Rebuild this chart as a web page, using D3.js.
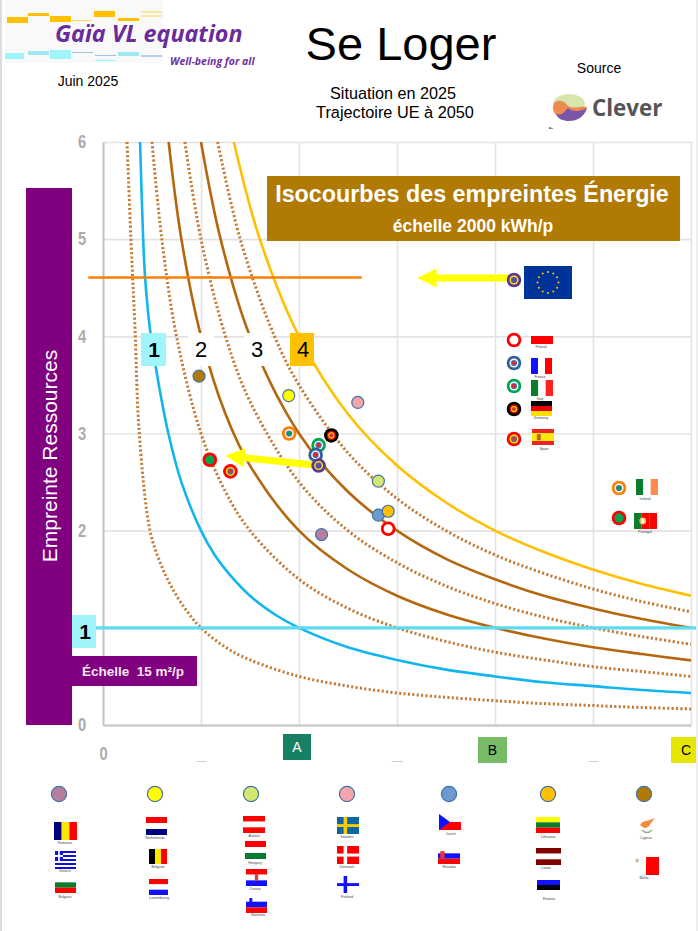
<!DOCTYPE html>
<html lang="fr">
<head>
<meta charset="utf-8">
<title>Se Loger</title>
<script src="https://cdn.jsdelivr.net/npm/d3@7.9.0/dist/d3.min.js"></script>
<style>
  html, body { margin: 0; padding: 0; background: #fff; }
  svg { display: block; }
  text { font-family: "Liberation Sans", Arial, sans-serif; }
  .flagLabel { font-size: 3.6px; fill: #444; text-anchor: middle; }
</style>
</head>
<body>
<svg id="chart" width="698" height="931"></svg>
<script>
// values
const yTicks = [0, 1, 2, 3, 4, 5, 6];
const yTickLabels = ['0', '', '2', '3', '4', '5', '6'];   // the 1 sits in the cyan box
const xTicks = [0, 1, 2, 3, 4, 5, 6];
const xTickLabels = ['0', '_', '', '_', '', '_', ''];     // A, B, C boxes take the others

// isocurves, [x, y] pairs
const dotted1 = [[0.245,6],[0.285,5],[0.327,4.07],[0.37,3],[0.48,2],[0.58,1.68],[0.7,1.42],[0.85,1.18],[1,1],[1.25,0.8],[1.5,0.67],[2,0.5],[2.5,0.4],[3,0.33],[3.5,0.285],[4,0.25],[4.5,0.22],[5,0.2],[5.5,0.18],[6,0.165]];
const blue2 = [[0.378,6],[0.41,5],[0.43,4.6],[0.48,4.07],[0.57,3.5],[0.667,3],[0.8,2.5],[1,2],[1.14,1.75],[1.3,1.54],[1.5,1.33],[1.75,1.14],[2,1],[2.5,0.8],[3,0.67],[3.5,0.57],[4,0.5],[4.5,0.44],[5,0.4],[5.5,0.36],[6,0.33]];
const dotted3 = [[0.5,6],[0.6,5],[0.75,4],[1,3],[1.25,2.4],[1.5,2],[2,1.5],[2.5,1.2],[3,1],[3.5,0.86],[4,0.75],[4.5,0.67],[5,0.6],[5.5,0.55],[6,0.5]];
const brown4 = [[0.67,6],[0.8,5],[1,4],[1.25,3.2],[1.5,2.67],[2,2],[2.5,1.6],[3,1.33],[3.5,1.14],[4,1],[4.5,0.89],[5,0.8],[5.5,0.73],[6,0.665]];
const dotted5 = [[0.835,6],[1,5],[1.25,4],[1.5,3.33],[2,2.5],[2.5,2],[3,1.67],[3.5,1.43],[4,1.25],[4.5,1.11],[5,1],[5.5,0.91],[6,0.83]];
const brown6 = [[1,6],[1.2,5],[1.5,4],[2,3],[2.5,2.4],[3,2],[3.5,1.71],[4,1.5],[4.5,1.33],[5,1.2],[5.5,1.09],[6,1]];
const dotted7 = [[1.17,6],[1.4,5],[1.75,4],[2,3.5],[2.5,2.8],[3,2.33],[3.5,2],[4,1.75],[4.5,1.56],[5,1.4],[5.5,1.27],[6,1.165]];
const gold8 = [[1.335,6],[1.6,5],[2,4],[2.5,3.2],[3,2.67],[3.5,2.29],[4,2],[4.5,1.78],[5,1.6],[5.5,1.45],[6,1.33]];

const ueLevel = 4.605;     // orange line
const ueLevelX = [-0.15, 2.64];
const unitLevel = 1;       // cyan line

// countries on the chart
const countries = ['Cyprus','Netherlands','Sweden','Ireland','Germany','Italy','France','EU','Portugal','Spain','Austria','Czech','Lithuania','Poland','Romania'];
const countryX = [0.98, 1.895, 2.6, 1.9, 2.33, 2.2, 2.17, 2.2, 1.09, 1.3, 2.81, 2.81, 2.91, 2.91, 2.23];
const countryY = [3.59, 3.39, 3.32, 3.0, 2.98, 2.88, 2.78, 2.67, 2.73, 2.61, 2.51, 2.16, 2.2, 2.02, 1.96];

// trajectories, from / to
const arrowFrom = [[4.2, 4.6], [2.2, 2.67]];
const arrowTo = [[3.21, 4.6], [1.25, 2.77]];

const flagStripes = {
  Poland: ['#fff', '#f00'], France: ['#11f', '#fff', '#f00'], Italy: ['#0a7d2c', '#fff', '#f22'],
  Germany: ['#000', '#e00', '#ffe000'], Spain: ['#e22', '#fbe90e', '#fbe90e', '#e22'], Ireland: ['#0a7d2c', '#fff', '#ff8a4c'],
  Portugal: ['#0a7d2c', '#f00', '#f00'], Romania: ['#000080', '#ffe600', '#f00'], Greece: ['#11d', '#fff', '#11d', '#fff', '#11d', '#fff', '#11d', '#fff', '#11d'],
  Bulgaria: ['#fff', '#0a7d2c', '#f00'], Netherlands: ['#f00', '#fff', '#000080'], Belgium: ['#000', '#ffe600', '#f00'],
  Luxembourg: ['#f00', '#fff', '#11f'], Austria: ['#f00', '#fff', '#f00'], Hungary: ['#f00', '#fff', '#0a7d2c'],
  Croatia: ['#f00', '#fff', '#11f'], Slovenia: ['#fff', '#11f', '#f00'], Sweden: ['#0f66a5'],
  Denmark: ['#f00'], Finland: ['#fff'], Czech: ['#fff', '#f00'], Slovakia: ['#fff', '#11f', '#f00'],
  Lithuania: ['#ff0', '#0a7d2c', '#f00'], Latvia: ['#800000', '#fff', '#800000'], Estonia: ['#11f', '#000', '#fff'],
  Cyprus: ['#fff'], Malta: ['#fff', '#f00']
};
const verticalFlags = ['France', 'Italy', 'Ireland', 'Portugal', 'Romania', 'Belgium', 'Malta'];

// layout of the legends: x, y, w, h of the flag, then label x, y
const flagBoxes = {
  Poland: [531,328,22,16,541,348], France: [531,358,21,16,540,378], Italy: [531,380,22,16,540,400],
  Germany: [531,401,21,15,541,419], Spain: [532,429,22,16,544,450], Ireland: [636,479,22,16,645,500],
  Portugal: [634,513,23,16,645,533],
  Romania: [54,822,23,18,65,844], Greece: [55,851,21,18,65,872], Bulgaria: [55,877,21,16,65,898],
  Netherlands: [146,817,21,18,155,839], Belgium: [149,849,18,15,158,868], Luxembourg: [149,879,19,16,159,899],
  Austria: [243,816,22,17,254,837], Hungary: [245,841,21,18,255,864], Croatia: [246,869,21,17,255,890], Slovenia: [246,896,21,17,258,916],
  Sweden: [337,817,22,17,347,838], Denmark: [337,846,22,18,347,868], Finland: [337,876,22,17,347,898],
  Czech: [439,814,22,16,451,835], Slovakia: [438,848,22,16,449,868],
  Lithuania: [536,817,24,16,548,838], Latvia: [536,848,25,17,546,869], Estonia: [537,880,23,15,549,900],
  Cyprus: [634,817,26,18,646,839], Malta: [633,857,26,18,644,879]
};
const ringLegend = [['Poland',514,340],['France',514,363],['Italy',514,386],['Germany',514,409],['Spain',514,439],['EU',514,280],['Ireland',619,488],['Portugal',619,518]];
const dotLegend = [['Romania',59,794],['Netherlands',155,794],['Austria',251,794],['Sweden',347,794],['Czech',449,794],['Lithuania',548,794],['Cyprus',644,794]];

// colours for each marker: plain fill, or list of nested rings
const dotFill = { Romania:'#b87e9f', Netherlands:'#ffff00', Austria:'#d4e76f', Sweden:'#f4a6aa', Czech:'#6d9bce', Lithuania:'#ffc000', Cyprus:'#b17a05' };
const rings = {
  Poland: ['#f00','#fff'], France: ['#2e6399','#fff','#4472c4','#e22'], Italy: ['#00a651','#fff','#4472c4','#e22'],
  Germany: ['#000','#e00','#ffe000','#d33'], Spain: ['#f00','#ffe600','#4472a8','#d33'], EU: ['#5a3a96','#ffe600','#5a4ea8'],
  Ireland: ['#ff7f00','#fff','#4472a8','#00a651'], Portugal: ['#f00','#00a651']
};
const ringRadius = [7.3, 4.5, 3.1, 2.1];

const svg = d3.select('#chart');
const x = d3.scaleLinear().domain([0, 6]).range([103, 691]);
const y = d3.scaleLinear().domain([0, 6]).range([725, 142]);

// page edges
svg.append('rect').attr('x', 0).attr('y', 0).attr('width', 2).attr('height', 931).attr('fill', '#dcdcdc');
svg.append('rect').attr('x', 696).attr('y', 0).attr('width', 2).attr('height', 931).attr('fill', '#eeeeee');

// header
drawHeader();

// grid
let gridX = svg.append('g').attr('transform', 'translate(0,725)')
  .call(d3.axisBottom(x).tickValues(xTicks).tickSize(-583).tickFormat(''));
let gridY = svg.append('g').attr('transform', 'translate(103,0)')
  .call(d3.axisLeft(y).tickValues(yTicks).tickSize(-588).tickFormat(''));
[gridX, gridY].forEach((g) => {
  g.select('.domain').remove();
  g.selectAll('line').attr('stroke', '#e3e3e3').attr('stroke-width', 1.6);
});

// axes, labels only
let axisY = svg.append('g').attr('transform', 'translate(103,0)')
  .call(d3.axisLeft(y).tickValues(yTicks).tickSize(0).tickFormat((d, i) => yTickLabels[i]));
axisY.selectAll('text').attr('x', -21 / 0.82).attr('text-anchor', 'middle').attr('transform', 'scale(0.82,1)');
let axisX = svg.append('g').attr('transform', 'translate(0,725)')
  .call(d3.axisBottom(x).tickValues(xTicks).tickSize(0).tickFormat((d, i) => xTickLabels[i]));
axisX.selectAll('text').attr('y', 35).attr('dy', 0);
axisX.selectAll('.tick').filter((d) => d === 0).select('text').attr('transform', 'scale(0.82,1)');
[axisX, axisY].forEach((g) => {
  g.select('.domain').attr('stroke', '#c4c4c4').attr('stroke-width', 2);
  g.selectAll('text')
    .attr('font-size', 18).attr('font-weight', 'bold').attr('fill', '#acacac');
});

// isocurves
const line = d3.line().x((d) => x(d[0])).y((d) => y(d[1])).curve(d3.curveCatmullRom.alpha(0.5));
function drawCurve(points, color, dotted) {
  svg.append('path').datum(points)
    .attr('d', line).attr('fill', 'none')
    .attr('stroke', color)
    .attr('stroke-width', dotted ? 3 : 2.6)
    .attr('stroke-dasharray', dotted ? '2.1 2.3' : null);
}
[dotted1, dotted3, dotted5, dotted7].forEach((c) => drawCurve(c, '#c27a35', true));
drawCurve(blue2, '#12b5ef', false);
drawCurve(brown4, '#b5670f', false);
drawCurve(brown6, '#b5670f', false);
drawCurve(gold8, '#ffc000', false);

// reference levels
svg.append('line').attr('x1', x(ueLevelX[0])).attr('x2', x(ueLevelX[1]))
  .attr('y1', y(ueLevel)).attr('y2', y(ueLevel))
  .attr('stroke', '#ff8000').attr('stroke-width', 2.6);
svg.append('line').attr('x1', 96).attr('x2', 696)
  .attr('y1', y(unitLevel)).attr('y2', y(unitLevel))
  .attr('stroke', '#5bdcf0').attr('stroke-width', 3.2);

// purple side bar
svg.append('rect').attr('x', 26).attr('y', 188).attr('width', 46).attr('height', 537).attr('fill', '#800080');
svg.append('text').attr('transform', 'translate(57,456) rotate(-90)')
  .attr('text-anchor', 'middle').attr('font-size', 21).attr('fill', '#fff').text('Empreinte Ressources');

labelBox(72, 615, 24, 33, '#9ff5f9', '1', '#000', 21, 85, 'bold');
svg.append('rect').attr('x', 72).attr('y', 656).attr('width', 125).attr('height', 30).attr('fill', '#800080');
svg.append('text').attr('x', 82).attr('y', 676).attr('font-size', 13.5).attr('font-weight', 'bold')
  .attr('fill', '#f4e8f4').attr('xml:space', 'preserve').text('Échelle  15 m²/p');

// title box of the isocurves
svg.append('rect').attr('x', 267).attr('y', 176).attr('width', 413).attr('height', 65).attr('fill', '#b17a05');
svg.append('text').attr('x', 472).attr('y', 202).attr('text-anchor', 'middle')
  .attr('font-size', 23.3).attr('font-weight', 'bold').attr('fill', '#fff').text('Isocourbes des empreintes Énergie');
svg.append('text').attr('x', 473).attr('y', 232).attr('text-anchor', 'middle')
  .attr('font-size', 17.5).attr('font-weight', 'bold').attr('fill', '#fff').text('échelle 2000 kWh/p');

// curve numbers
labelBox(141, 333, 25, 33, '#9ff5f9', '1', '#000', 21, 154, 'bold');
labelBox(188, 333, 26, 33, '#fff', '2', '#000', 22, 201);
labelBox(244, 333, 26, 33, '#fff', '3', '#000', 22);
labelBox(290, 333, 24, 33, '#ffc000', '4', '#000', 22, 303);

// classes on the x axis
labelBox(283, 734, 28, 26, '#177f63', 'A', '#fff', 14);
labelBox(478, 737, 29, 26, '#77bb66', 'B', '#000', 14);
labelBox(671, 737, 25, 26, '#e6e600', 'C', '#000', 14, 686);

// arrows
arrowFrom.forEach((from, i) => drawArrow(from, arrowTo[i]));

// country markers
countries.forEach((name, i) => {
  if (name in rings) drawRings(name, x(countryX[i]), y(countryY[i]));
  else drawDot(dotFill[name], x(countryX[i]), y(countryY[i]), 6);
});

// legends
ringLegend.forEach(([name, px, py]) => drawRings(name, px, py));
dotLegend.forEach(([name, px, py]) => drawDot(dotFill[name], px, py, 7.6));
drawEuFlag();
Object.keys(flagBoxes).forEach(drawFlag);

function labelBox(bx, by, w, h, fill, label, color, size, cx, weight) {
  svg.append('rect').attr('x', bx).attr('y', by).attr('width', w).attr('height', h).attr('fill', fill);
  svg.append('text').attr('x', cx || bx + w / 2).attr('y', by + h / 2 + size * 0.36)
    .attr('text-anchor', 'middle').attr('font-size', size).attr('font-weight', weight || 'normal').attr('fill', color).text(label);
}

function drawDot(fill, px, py, r) {
  svg.append('circle').attr('cx', px).attr('cy', py).attr('r', r)
    .attr('fill', fill).attr('stroke', '#4472a8').attr('stroke-width', 1.2);
}

function drawRings(name, px, py) {
  rings[name].forEach((color, i) => {
    svg.append('circle').attr('cx', px).attr('cy', py).attr('r', ringRadius[i]).attr('fill', color);
  });
}

function drawArrow(from, to) {
  const x0 = x(from[0]), y0 = y(from[1]), x1 = x(to[0]), y1 = y(to[1]);
  const a = Math.atan2(y1 - y0, x1 - x0) * 180 / Math.PI;
  const len = Math.hypot(x1 - x0, y1 - y0);
  const g = svg.append('g').attr('transform', `translate(${x0},${y0}) rotate(${a})`);
  g.append('path').attr('fill', '#ffff00')
    .attr('d', `M0,-3.5 L${len - 19},-3.5 L${len - 19},-9.5 L${len},0 L${len - 19},9.5 L${len - 19},3.5 L0,3.5 Z`);
}

function drawFlag(name) {
  const [fx, fy, w, h, lx, ly] = flagBoxes[name];
  const colors = flagStripes[name];
  const vertical = verticalFlags.includes(name);
  const g = svg.append('g');
  const rectAt = (rx, ry, rw, rh, fill) => g.append('rect').attr('x', rx).attr('y', ry).attr('width', rw).attr('height', rh).attr('fill', fill);
  colors.forEach((c, i) => {
    if (vertical) rectAt(fx + i * w / colors.length, fy, w / colors.length, h, c);
    else rectAt(fx, fy + i * h / colors.length, w, h / colors.length, c);
  });
  if (name === 'Sweden' || name === 'Denmark' || name === 'Finland') {
    const c = name === 'Sweden' ? '#fc0' : name === 'Denmark' ? '#fff' : '#11f';
    rectAt(fx + w * 0.3, fy, w * 0.16, h, c);
    rectAt(fx, fy + h * 0.42, w, h * 0.17, c);
  }
  if (name === 'Greece') {
    rectAt(fx, fy, w * 0.38, h * 5 / 9, '#11d');
    rectAt(fx + w * 0.15, fy, w * 0.08, h * 5 / 9, '#fff');
    rectAt(fx, fy + h * 0.22, w * 0.38, h * 0.11, '#fff');
  }
  if (name === 'Czech') {
    g.append('path').attr('fill', '#11f').attr('d', `M${fx},${fy} L${fx + w * 0.5},${fy + h / 2} L${fx},${fy + h} Z`);
  }
  if (name === 'Spain') rectAt(fx + w * 0.22, fy + h * 0.32, w * 0.18, h * 0.38, '#b5651d');
  if (name === 'Portugal') {
    g.append('circle').attr('cx', fx + w * 0.38).attr('cy', fy + h * 0.5).attr('r', 3.4).attr('fill', '#e8c170');
    rectAt(fx + w * 0.34, fy + h * 0.36, w * 0.09, h * 0.28, '#fff');
  }
  if (name === 'Croatia') rectAt(fx + w * 0.42, fy + h * 0.3, w * 0.16, h * 0.4, '#c44');
  if (name === 'Slovakia') rectAt(fx + w * 0.1, fy + h * 0.2, w * 0.2, h * 0.42, '#e33');
  if (name === 'Slovenia') rectAt(fx + w * 0.16, fy + h * 0.12, w * 0.14, h * 0.3, '#11f');
  if (name === 'Malta') rectAt(fx + w * 0.1, fy + h * 0.1, w * 0.12, h * 0.2, '#c9b9a9');
  if (name === 'Cyprus') {
    g.append('path').attr('fill', '#f58a3c')
      .attr('d', `M${fx + 6},${fy + 8} Q${fx + 8},${fy + 4} ${fx + 13},${fy + 4} L${fx + 21},${fy + 1} L${fx + 17},${fy + 6} Q${fx + 15},${fy + 11} ${fx + 10},${fy + 11} Z`);
    g.append('path').attr('fill', 'none').attr('stroke', '#8fb58a').attr('stroke-width', 1.6)
      .attr('d', `M${fx + 8},${fy + 13} Q${fx + 13},${fy + 18} ${fx + 18},${fy + 13}`);
  }
  svg.append('text').attr('class', 'flagLabel').attr('x', lx).attr('y', ly).text(name);
}

function drawEuFlag() {
  const cx = 548, cy = 282.5;
  svg.append('rect').attr('x', 524).attr('y', 266).attr('width', 48).attr('height', 33).attr('fill', '#003399');
  d3.range(12).forEach((i) => {
    const a = i * Math.PI / 6;
    svg.append('circle').attr('cx', cx + 10.5 * Math.sin(a)).attr('cy', cy - 10.5 * Math.cos(a)).attr('r', 1).attr('fill', '#ffcc00');
  });
}

function drawHeader() {
  svg.append('rect').attr('x', 5).attr('y', 0).attr('width', 158).attr('height', 63).attr('fill', '#f9f9f9');
  const bars = [
    [7,17,21,6,'#ffc000'],[28,13,21,3,'#ffc000'],[50,16,21,6,'#ffc000'],[72,20,20,1,'#ffd966'],
    [94,11,21,6,'#ffc000'],[118,18,21,3,'#ffc000'],[141,11,21,2,'#ffe699'],[141,15,21,2,'#ffe699'],
    [5,53,19,6,'#9ff5f9'],[28,51,21,4,'#9fe8f0'],[50,50,21,9,'#9ff5f9'],[72,52,21,1,'#9cc2e5'],
    [95,55,21,1,'#9cc2e5'],[95,60,21,1,'#9ff5f9'],[118,52,21,4,'#9fe8f0'],[141,55,21,2,'#b4cfe8']
  ];
  bars.forEach((b) => {
    svg.append('rect').attr('x', b[0]).attr('y', b[1]).attr('width', b[2]).attr('height', b[3]).attr('fill', b[4]);
  });
  svg.append('text').attr('x', 55).attr('y', 42).style('font-family', '"Open Sans", sans-serif')
    .attr('font-size', 23.3).attr('font-weight', 'bold').attr('font-style', 'italic').attr('fill', '#6a2c9a').text('Gaïa VL equation');
  svg.append('text').attr('x', 170).attr('y', 65).style('font-family', '"Open Sans", sans-serif')
    .attr('font-size', 10.5).attr('font-weight', 'bold').attr('font-style', 'italic').attr('fill', '#7030a0').text('Well-being for all');
  svg.append('text').attr('x', 88).attr('y', 86).attr('text-anchor', 'middle').attr('font-size', 14).text('Juin 2025');
  svg.append('text').attr('x', 401).attr('y', 60).attr('text-anchor', 'middle').attr('font-size', 47).text('Se Loger');
  svg.append('text').attr('x', 393).attr('y', 99).attr('text-anchor', 'middle').attr('font-size', 16.2).text('Situation en 2025');
  svg.append('text').attr('x', 395).attr('y', 118).attr('text-anchor', 'middle').attr('font-size', 16.3).text('Trajectoire UE à 2050');
  svg.append('text').attr('x', 599).attr('y', 73).attr('text-anchor', 'middle').attr('font-size', 14).text('Source');
  // Clever logo
  svg.append('ellipse').attr('cx', 569).attr('cy', 104).attr('rx', 16).attr('ry', 10).attr('fill', '#d7e6ad');
  svg.append('path').attr('fill', '#ee8a4d').attr('d', 'M553,109 C552,100 562,98 567,105 C572,110 580,106 587,107 C585,115 575,117 567,112 C562,118 555,118 553,109 Z');
  svg.append('path').attr('fill', '#7a55a8').attr('d', 'M556,114 C562,116 564,112 568,108 C572,112 580,112 587,108 C584,118 576,121 569,121 C563,121 558,119 556,114 Z');
  svg.append('text').attr('x', 592).attr('y', 116).style('font-family', '"Open Sans", sans-serif')
    .attr('font-size', 22.4).attr('font-weight', 'bold').attr('fill', '#555').text('Clever');
  svg.append('path').attr('fill', '#7a55a8').attr('d', 'M549,127 L554,128.5 L549,129 Z');
}
</script>
</body>
</html>
